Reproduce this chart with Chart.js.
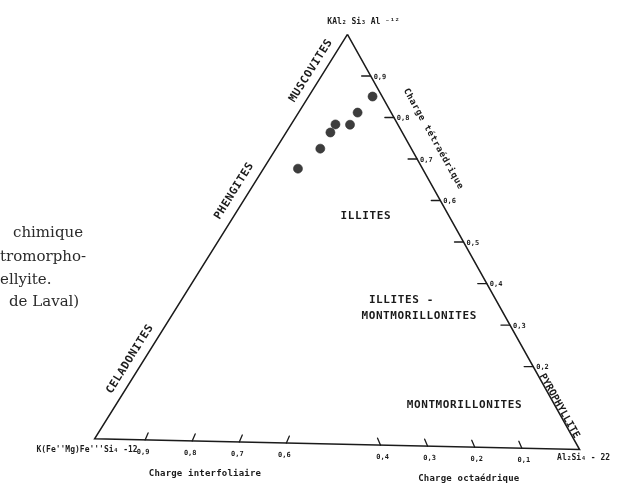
<!DOCTYPE html>
<html><head><meta charset="utf-8">
<script src="https://cdn.jsdelivr.net/npm/chart.js@4.4.0/dist/chart.umd.min.js"></script>
<style>html,body{margin:0;padding:0;background:#fff;}canvas{display:block;}</style>
</head><body>
<canvas id="c" width="627" height="486"></canvas>
<script>
// ---------- data ----------
const sampleTetraCharge = [0.85, 0.81, 0.78, 0.78, 0.76, 0.72, 0.67]; // weight of KAl2Si3Al pole
const sampleOctaCharge  = [0.02, 0.07, 0.10, 0.13, 0.15, 0.19, 0.26]; // weight of celadonite pole
const rightAxisTicks  = [0.9, 0.8, 0.7, 0.6, 0.5, 0.4, 0.3, 0.2];
const rightAxisLabels = ['0,9','0,8','0,7','0,6','0,5','0,4','0,3','0,2'];
const bottomAxisTicks  = [0.9, 0.8, 0.7, 0.6, 0.4, 0.3, 0.2, 0.1];
const bottomAxisLabels = ['0,9','0,8','0,7','0,6','0,4','0,3','0,2','0,1'];
const vertexLabels = ['KAl₂ Si₃ Al ⁻¹²', "K(Fe''Mg)Fe'''Si₄ -12", 'Al₂Si₄ - 22'];
const edgeLabels   = ['MUSCOVITES', 'PHENGITES', 'CELADONITES', 'PYROPHYLLITE'];
const fieldLabels  = ['ILLITES', 'ILLITES -', 'MONTMORILLONITES', 'MONTMORILLONITES'];
const axisTitles   = ['Charge tétraédrique', 'Charge interfoliaire', 'Charge octaédrique'];
const captionLines = ['chimique', 'tromorpho-', 'ellyite.', 'de Laval)'];

// ---------- layout (positions / styles) ----------
const FRAME = { A: [348, 30], B: [91, 443], C: [584, 454] };   // triangle poles in canvas units
const BOTTOM_CAL = { offset: 0.007, span: 0.971 };             // bottom axis calibration along B->C
const INK = '#1b1b1b';
const LBL = 'bold 11px "DejaVu Sans Mono"';
const TICKF = 'bold 7px "DejaVu Sans Mono"';

function tern(t, o) { // barycentric -> frame coordinates
  const c = 1 - t - o;
  return { x: t*FRAME.A[0] + o*FRAME.B[0] + c*FRAME.C[0],
           y: t*FRAME.A[1] + o*FRAME.B[1] + c*FRAME.C[1] };
}

const outline = [tern(1,0), tern(0,1), tern(0,0), tern(1,0)];
const samples = sampleTetraCharge.map((t, i) => tern(t, sampleOctaCharge[i]));

function px(chart, p) {
  return { x: chart.scales.x.getPixelForValue(p.x), y: chart.scales.y.getPixelForValue(p.y) };
}
function txt(ctx, s, x, y, o) {
  ctx.save();
  ctx.translate(x, y);
  if (o.angle) ctx.rotate(o.angle);
  ctx.font = o.font;
  ctx.letterSpacing = (o.ls || 0) + 'px';
  ctx.textAlign = o.align || 'center';
  ctx.textBaseline = 'middle';
  ctx.fillStyle = o.color || INK;
  ctx.fillText(s, 0, 0);
  ctx.restore();
}
function onEdge(P, Q, f, h) {
  const dx = Q.x - P.x, dy = Q.y - P.y, L = Math.hypot(dx, dy);
  const ux = dx / L, uy = dy / L;
  return { x: P.x + f*dx + h*uy, y: P.y + f*dy - h*ux, angle: Math.atan2(dy, dx) };
}

const decor = {
  id: 'decor',
  afterDatasetsDraw(chart) {
    const ctx = chart.ctx;
    const A = px(chart, tern(1,0)), B = px(chart, tern(0,1)), C = px(chart, tern(0,0));
    ctx.save();
    ctx.strokeStyle = INK; ctx.lineWidth = 1.3; ctx.lineCap = 'round';
    // right axis ticks (tetrahedral charge)
    rightAxisTicks.forEach((v, i) => {
      const p = px(chart, tern(v, 0));
      ctx.beginPath(); ctx.moveTo(p.x - 9, p.y); ctx.lineTo(p.x, p.y); ctx.stroke();
      txt(ctx, rightAxisLabels[i], p.x + 3, p.y + 1, { font: TICKF, align: 'left' });
    });
    // bottom axis ticks
    bottomAxisTicks.forEach((v, i) => {
      const f = BOTTOM_CAL.offset + BOTTOM_CAL.span * (1 - v);
      const p = px(chart, tern(0, 1 - f));
      const s = v > 0.5 ? 1 : -1;
      ctx.beginPath(); ctx.moveTo(p.x, p.y); ctx.lineTo(p.x + 3*s, p.y - 7); ctx.stroke();
      txt(ctx, bottomAxisLabels[i], p.x - 2*s, p.y + 12, { font: TICKF });
    });
    ctx.restore();

    // vertex labels
    txt(ctx, vertexLabels[0], A.x + 16, A.y - 13, { font: 'bold 8px "DejaVu Sans Mono"' });
    txt(ctx, vertexLabels[1], B.x + 43, B.y + 11, { font: 'bold 8px "DejaVu Sans Mono"', align: 'right' });
    txt(ctx, vertexLabels[2], C.x + 4, C.y + 8, { font: 'bold 8px "DejaVu Sans Mono"' });

    // edge labels
    const e = [
      [edgeLabels[0], B, A, 0.895, 11.7, LBL, 0.6],
      [edgeLabels[1], B, A, 0.596, 13.0, LBL, 0.6],
      [edgeLabels[2], B, A, 0.181, 12.2, LBL, 0.6],
      [edgeLabels[3], A, C, 0.899, 3.5, 'bold 10px "DejaVu Sans Mono"', 0],
      [axisTitles[0], A, C, 0.28, 24, 'bold 9px "DejaVu Sans Mono"', 0.6]
    ];
    e.forEach(([s, P, Q, f, h, font, ls]) => {
      const q = onEdge(P, Q, f, h);
      txt(ctx, s, q.x, q.y, { font, ls, angle: q.angle });
    });

    // field labels
    let p = px(chart, tern(0.557, 0.174)); txt(ctx, fieldLabels[0], p.x, p.y, { font: LBL, ls: 0.6 });
    p = px(chart, tern(0.354, 0.265));     txt(ctx, fieldLabels[1], p.x, p.y, { font: LBL, ls: 0.6, align: 'left' });
    p = px(chart, tern(0.313, 0.300));     txt(ctx, fieldLabels[2], p.x, p.y, { font: LBL, ls: 0.6, align: 'left' });
    p = px(chart, tern(0.101, 0.189));     txt(ctx, fieldLabels[3], p.x, p.y, { font: LBL, ls: 0.6 });

    // bottom axis titles
    let q = onEdge(B, C, 0.229, -32.5); txt(ctx, axisTitles[1], q.x, q.y, { font: 'bold 9px "DejaVu Sans Mono"', ls: 0.2 });
    q = onEdge(B, C, 0.773, -31.5);     txt(ctx, axisTitles[2], q.x, q.y, { font: 'bold 9px "DejaVu Sans Mono"', ls: 0.2 });

    // caption fragment at left (cut page text)
    const cx = [13, 0, 0, 9], cy = [233, 257, 280, 302];
    captionLines.forEach((s, i) => txt(ctx, s, cx[i], cy[i], { font: '15px "DejaVu Serif"', align: 'left', color: '#2a2a2a' }));
  }
};

new Chart(document.getElementById('c'), {
  type: 'scatter',
  data: {
    datasets: [
      { data: outline, showLine: true, borderColor: INK, borderWidth: 1.5, pointRadius: 0, tension: 0, fill: false },
      { data: samples, pointRadius: 4.5, pointBackgroundColor: '#3d3d3d', pointBorderColor: '#2a2a2a', pointBorderWidth: 0.6 }
    ]
  },
  options: {
    responsive: false, animation: false, devicePixelRatio: 1,
    layout: { padding: 0 },
    plugins: { legend: { display: false }, tooltip: { enabled: false } },
    scales: {
      x: { type: 'linear', min: 0, max: 627, display: false },
      y: { type: 'linear', min: 0, max: 486, reverse: true, display: false }
    }
  },
  plugins: [decor]
});
</script>
</body></html>
